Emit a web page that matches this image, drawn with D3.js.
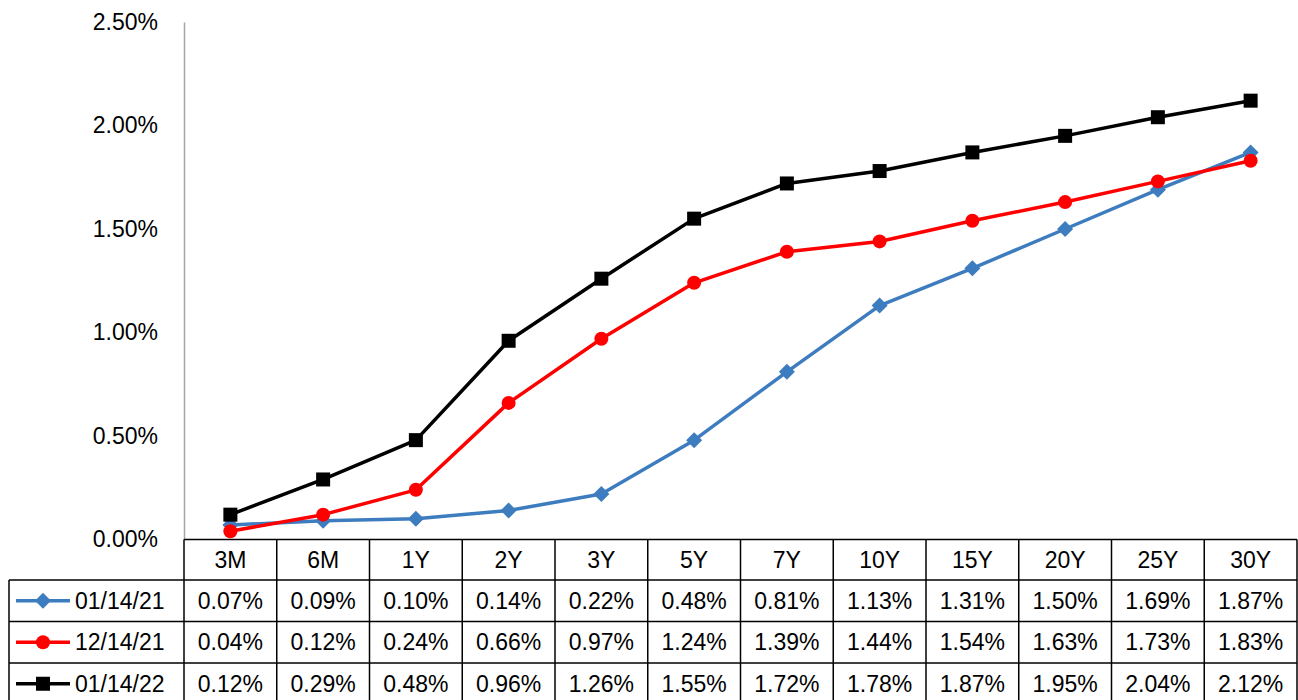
<!DOCTYPE html>
<html>
<head>
<meta charset="utf-8">
<script src="https://cdn.jsdelivr.net/npm/d3@7"></script>
<style>
html,body{margin:0;padding:0;background:#fff;}
svg{display:block;}
text{font-family:"Liberation Sans",Arial,sans-serif;fill:#000;}
</style>
</head>
<body>
<svg id="chart" width="1298" height="700"></svg>
<script>
const categories = ["3M","6M","1Y","2Y","3Y","5Y","7Y","10Y","15Y","20Y","25Y","30Y"];
const seriesNames = ["01/14/21","12/14/21","01/14/22"];
const values2021a = [0.07,0.09,0.10,0.14,0.22,0.48,0.81,1.13,1.31,1.50,1.69,1.87];
const values2021b = [0.04,0.12,0.24,0.66,0.97,1.24,1.39,1.44,1.54,1.63,1.73,1.83];
const values2022  = [0.12,0.29,0.48,0.96,1.26,1.55,1.72,1.78,1.87,1.95,2.04,2.12];
const yTicks = [0,0.5,1.0,1.5,2.0,2.5];

(function(){
const series = [
  {name: seriesNames[0], values: values2021a, color: "#3d7cbf", marker: "diamond"},
  {name: seriesNames[1], values: values2021b, color: "#ff0000", marker: "circle"},
  {name: seriesNames[2], values: values2022,  color: "#000000", marker: "square"}
];

const svg = d3.select("#chart");
const pLeft = 184, pRight = 1297, pTop = 22, pBottom = 539.5;
const rowH = 41.5, headerH = 40.5, tableLeft = 9;
const fontSize = 23;

const x = d3.scaleBand().domain(categories).range([pLeft, pRight]);
const y = d3.scaleLinear().domain([0, 2.5]).range([pBottom, pTop]);

// y axis
const yAxis = d3.axisLeft(y).tickValues(yTicks).tickSize(0).tickPadding(26)
  .tickFormat(d => d.toFixed(2) + "%");
const ga = svg.append("g").attr("transform", `translate(${pLeft},0)`).call(yAxis);
ga.select(".domain").attr("stroke", "#a6a6a6").attr("stroke-width", 1.5);
ga.selectAll("text").style("font-size", fontSize + "px").style("font-family", '"Liberation Sans",Arial,sans-serif').attr("fill", "#000");

function drawMarker(g, type, cx, cy, color) {
  if (type === "diamond") {
    const s = 8;
    g.append("path").attr("d", `M${cx},${cy - s}L${cx + s},${cy}L${cx},${cy + s}L${cx - s},${cy}Z`).attr("fill", color);
  } else if (type === "circle") {
    g.append("circle").attr("cx", cx).attr("cy", cy).attr("r", 7).attr("fill", color);
  } else {
    const s = 7;
    g.append("rect").attr("x", cx - s).attr("y", cy - s).attr("width", 2 * s).attr("height", 2 * s).attr("fill", color);
  }
}

const line = d3.line().x((d, i) => x(categories[i]) + x.bandwidth() / 2).y(d => y(d));
series.forEach(s => {
  const g = svg.append("g");
  g.append("path").datum(s.values).attr("d", line).attr("fill", "none")
    .attr("stroke", s.color).attr("stroke-width", 3.5).attr("stroke-linejoin", "round");
  s.values.forEach((v, i) => drawMarker(g, s.marker, x(categories[i]) + x.bandwidth() / 2, y(v), s.color));
});

// data table
const tg = svg.append("g");
const tableBottom = pBottom + headerH + rowH * 3;
tg.append("line").attr("x1", pLeft).attr("x2", pRight).attr("y1", pBottom).attr("y2", pBottom)
  .attr("stroke", "#000").attr("stroke-width", 1.5);
for (let r = 0; r <= 3; r++) {
  const yy = pBottom + headerH + rowH * r;
  tg.append("line").attr("x1", tableLeft).attr("x2", pRight).attr("y1", yy).attr("y2", yy)
    .attr("stroke", "#000").attr("stroke-width", 1.5);
}
categories.forEach(c => {
  tg.append("line").attr("x1", x(c)).attr("x2", x(c)).attr("y1", pBottom).attr("y2", tableBottom)
    .attr("stroke", "#000").attr("stroke-width", 1.5);
});
tg.append("line").attr("x1", pRight).attr("x2", pRight).attr("y1", pBottom).attr("y2", tableBottom)
  .attr("stroke", "#000").attr("stroke-width", 1.5);
tg.append("line").attr("x1", tableLeft).attr("x2", tableLeft).attr("y1", pBottom + headerH).attr("y2", tableBottom)
  .attr("stroke", "#000").attr("stroke-width", 1.5);

categories.forEach(c => {
  tg.append("text").attr("x", x(c) + x.bandwidth() / 2).attr("y", pBottom + headerH / 2)
    .attr("text-anchor", "middle").attr("dominant-baseline", "central")
    .style("font-size", fontSize + "px").text(c);
});
series.forEach((s, r) => {
  const cy = pBottom + headerH + rowH * r + rowH / 2;
  s.values.forEach((v, i) => {
    tg.append("text").attr("x", x(categories[i]) + x.bandwidth() / 2).attr("y", cy)
      .attr("text-anchor", "middle").attr("dominant-baseline", "central")
      .style("font-size", fontSize + "px").text(v.toFixed(2) + "%");
  });
  tg.append("line").attr("x1", 16).attr("x2", 70).attr("y1", cy).attr("y2", cy)
    .attr("stroke", s.color).attr("stroke-width", 3.5);
  drawMarker(tg, s.marker, 43, cy, s.color);
  tg.append("text").attr("x", 75).attr("y", cy).attr("dominant-baseline", "central")
    .style("font-size", fontSize + "px").text(s.name);
});
})();
</script>
</body>
</html>
